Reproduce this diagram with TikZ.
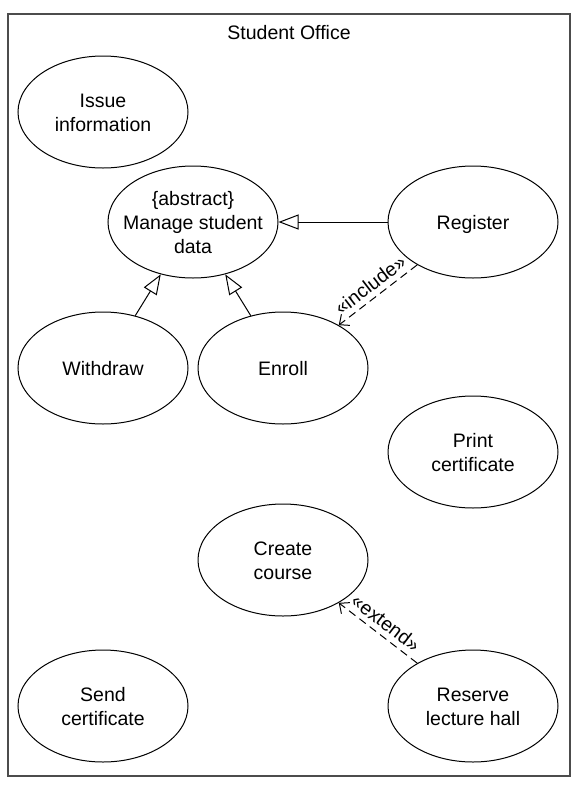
\documentclass[tikz,border=0pt]{standalone}
\usepackage{fontspec}
\setmainfont{Liberation Sans}
\usetikzlibrary{shapes, arrows.meta}
\newcommand{\uclines}[1]{\makebox[0pt]{\raisebox{-8pt}[0pt][0pt]{\begin{tabular}{@{}c@{}}#1\end{tabular}}}}

\begin{document}
\begin{tikzpicture}[x=1pt, y=-1pt, line width=1pt,
    font=\fontsize{19.5}{24}\selectfont,
    usecase/.style={draw, ellipse, minimum width=170pt, minimum height=112pt, inner sep=0pt},
    gen/.style={-{Triangle[open, length=20pt, width=15pt]}},
    dep/.style={dash pattern=on 8pt off 5pt, -{Straight Barb[length=8pt, width=14pt]}}]
  \useasboundingbox (0, 0) rectangle (585, 788);
  \draw[black!70, line width=1.3pt] (8, 14) rectangle (570, 776);
  \node (office) at (289, 33) {Student Office};
  % use cases
  \node[usecase] (issue) at (103, 112) {\uclines{Issue\\information}};
  \node[usecase] (manage) at (193, 222) {\uclines{\{abstract\}\\Manage student\\data}};
  \node[usecase] (register) at (473, 222) {\uclines{Register}};
  \node[usecase] (withdraw) at (103, 368) {\uclines{Withdraw}};
  \node[usecase] (enroll) at (283, 368) {\uclines{Enroll}};
  \node[usecase] (print) at (473, 452) {\uclines{Print\\certificate}};
  \node[usecase] (create) at (283, 560) {\uclines{Create\\course}};
  \node[usecase] (send) at (103, 706) {\uclines{Send\\certificate}};
  \node[usecase] (reserve) at (473, 706) {\uclines{Reserve\\lecture hall}};
  % relations
  \draw[gen] (register) -- (manage);
  \draw[gen] (withdraw) -- (manage);
  \draw[gen] (enroll) -- (manage);
  \draw[dep] (register) -- node[sloped, above=2pt] {«include»} (enroll);
  \draw[dep] (reserve) -- node[sloped, above=2pt] {«extend»} (create);
\end{tikzpicture}
\end{document}
